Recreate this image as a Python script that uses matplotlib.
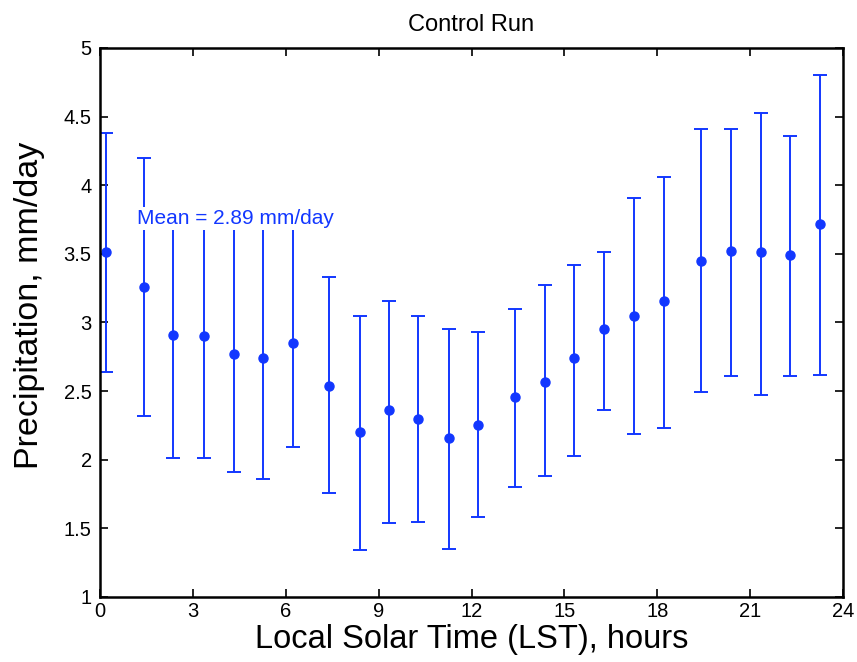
import matplotlib
matplotlib.use("Agg")
import matplotlib.pyplot as plt
import numpy as np

plt.rcParams['font.family'] = ['Liberation Sans', 'DejaVu Sans']

# hourly mean precipitation (LST) and error bar ends
hours = [0.19, 1.42, 2.36, 3.36, 4.33, 5.26, 6.23, 7.39, 8.40, 9.33, 10.27, 11.27,
         12.21, 13.40, 14.37, 15.31, 16.28, 17.25, 18.22, 19.41, 20.38, 21.35, 22.29, 23.26]
precip = [3.51, 3.26, 2.91, 2.90, 2.77, 2.74, 2.85, 2.54, 2.20, 2.36, 2.30, 2.16,
          2.25, 2.46, 2.57, 2.74, 2.95, 3.05, 3.16, 3.45, 3.52, 3.51, 3.49, 3.72]
upper = [4.38, 4.20, 3.80, 3.80, 3.80, 3.80, 3.75, 3.33, 3.05, 3.16, 3.05, 2.95,
         2.93, 3.10, 3.27, 3.42, 3.51, 3.91, 4.06, 4.41, 4.41, 4.53, 4.36, 4.80]
lower = [2.64, 2.32, 2.01, 2.01, 1.91, 1.86, 2.09, 1.76, 1.34, 1.54, 1.55, 1.35,
         1.58, 1.80, 1.88, 2.03, 2.36, 2.19, 2.23, 2.49, 2.61, 2.47, 2.61, 2.62]
mean_label = "Mean = 2.89 mm/day"

blue = '#1237ff'
p = np.array(precip)
yerr = [p - np.array(lower), np.array(upper) - p]

fig = plt.figure(figsize=(8.57, 6.62), dpi=100)
ax = fig.add_axes([0.1167, 0.0982, 0.867, 0.8293])

ax.errorbar(hours, precip, yerr=yerr, fmt='o', color=blue, ms=6.5, elinewidth=1.4,
            capsize=5, capthick=1.4, zorder=2)

ax.text(1.2, 3.76, mean_label, color=blue, fontsize=15, va='center', ha='left',
        bbox=dict(facecolor='white', edgecolor='none', pad=1.5), zorder=3)

ax.set_xlim(0, 24)
ax.set_ylim(1, 5)
ax.set_xticks(np.arange(0, 25, 3))
ax.set_yticks(np.arange(1, 5.01, 0.5))
ax.set_yticklabels(['1', '1.5', '2', '2.5', '3', '3.5', '4', '4.5', '5'])
ax.tick_params(direction='in', top=True, right=True, length=6, width=1.2, labelsize=14.5)
ax.tick_params(axis='y', pad=6)
for s in ax.spines.values():
    s.set_linewidth(1.8)

ax.set_xlabel("Local Solar Time (LST), hours", fontsize=23.5, labelpad=2)
ax.set_ylabel("Precipitation, mm/day", fontsize=24.5)
ax.yaxis.set_label_coords(-0.074, 0.532)
ax.set_title("Control Run", fontsize=17, pad=12)

fig.savefig("out.png", dpi=100)
